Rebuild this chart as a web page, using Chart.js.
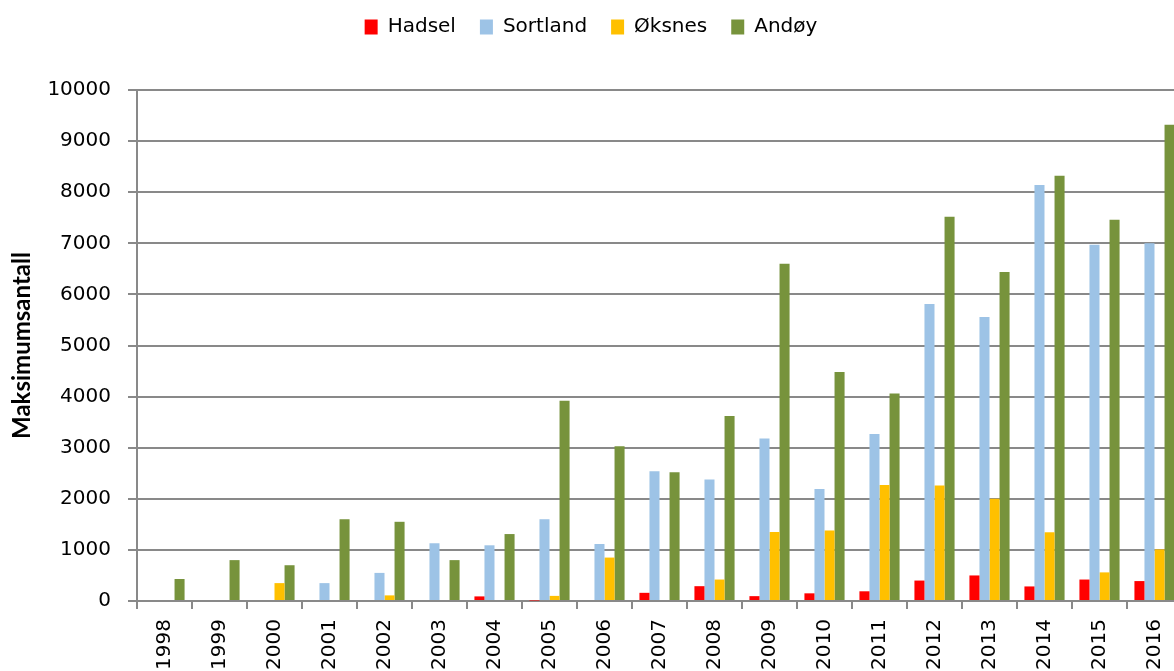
<!DOCTYPE html>
<html>
<head>
<meta charset="utf-8">
<script src="https://cdn.jsdelivr.net/npm/chart.js@4/dist/chart.umd.min.js"></script>
<style>
  html, body { margin: 0; padding: 0; background: #fff; overflow: hidden; }
  #wrap { width: 1174px; height: 671px; overflow: hidden; position: relative; }
  canvas { display: block; }
</style>
</head>
<body>
<div id="wrap"><canvas id="c" width="1200" height="671"></canvas></div>
<script>
// Yearly maximum counts per municipality
const years = ['1998','1999','2000','2001','2002','2003','2004','2005','2006','2007',
               '2008','2009','2010','2011','2012','2013','2014','2015','2016'];
const hadsel   = [0, 0, 0, 0, 0, 0, 90, 10, 0, 160, 290, 95, 150, 190, 400, 500, 285, 420, 390];
const sortland = [0, 0, 0, 350, 550, 1130, 1090, 1600, 1115, 2540, 2380, 3180, 2190, 3270, 5810, 5560, 8140, 6970, 7000];
const oksnes   = [0, 0, 350, 0, 110, 0, 0, 100, 850, 0, 420, 1350, 1380, 2270, 2260, 2000, 1345, 560, 1010];
const andoy    = [430, 800, 700, 1600, 1550, 800, 1310, 3920, 3030, 2520, 3620, 6600, 4480, 4060, 7520, 6440, 8320, 7460, 9320];
const yTicks   = [0, 1000, 2000, 3000, 4000, 5000, 6000, 7000, 8000, 9000, 10000];

const gridGray = '#898989';

// Reserve vertical room under the legend so the plot starts lower
const legendSpacer = {
  id: 'legendSpacer',
  beforeInit(chart) {
    const orig = chart.legend.fit;
    chart.legend.fit = function () {
      orig.call(this);
      this.height = 97;
    };
  }
};

new Chart(document.getElementById('c'), {
  type: 'bar',
  data: {
    labels: years,
    datasets: [
      { label: 'Hadsel',   data: hadsel,   backgroundColor: '#FF0000' },
      { label: 'Sortland', data: sortland, backgroundColor: '#9DC3E6' },
      { label: 'Øksnes',   data: oksnes,   backgroundColor: '#FFC000' },
      { label: 'Andøy',    data: andoy,    backgroundColor: '#77933C' }
    ]
  },
  options: {
    responsive: false,
    animation: false,
    devicePixelRatio: 1,
    layout: { padding: { top: -7, right: 18, left: 0, bottom: 0 } },
    datasets: { bar: { categoryPercentage: 0.73, barPercentage: 1.0 } },
    plugins: {
      tooltip: { enabled: false },
      legend: {
        position: 'top',
        labels: {
          color: '#000',
          font: { family: 'DejaVu Sans', size: 20 },
          boxWidth: 13,
          boxHeight: 15,
          padding: 24
        }
      }
    },
    scales: {
      x: {
        grid: {
          display: true,
          drawOnChartArea: false,
          drawTicks: true,
          tickLength: 8,
          color: gridGray,
          lineWidth: 2,
          offset: true
        },
        border: { display: true, color: gridGray, width: 2 },
        ticks: {
          color: '#000',
          font: { family: 'DejaVu Sans', size: 20 },
          minRotation: 90,
          maxRotation: 90,
          padding: 10,
          autoSkip: false
        },
        afterFit(scale) { scale.height = 70; }
      },
      y: {
        min: 0,
        max: 10000,
        afterBuildTicks(scale) { scale.ticks = yTicks.map(v => ({ value: v })); },
        grid: {
          color: gridGray,
          lineWidth: 2,
          drawTicks: true,
          tickLength: 9
        },
        border: { display: true, color: gridGray, width: 2 },
        ticks: {
          color: '#000',
          font: { family: 'DejaVu Sans', size: 20 },
          padding: 17,
          callback: (v) => String(v)
        },
        title: {
          display: true,
          text: 'Maksimumsantall',
          color: '#000',
          font: { family: 'Lato', size: 24, weight: 'bold' },
          padding: { top: 8, bottom: 0 }
        },
        afterFit(scale) { scale.width = 137; }
      }
    }
  },
  plugins: [legendSpacer]
});
</script>
</body>
</html>
